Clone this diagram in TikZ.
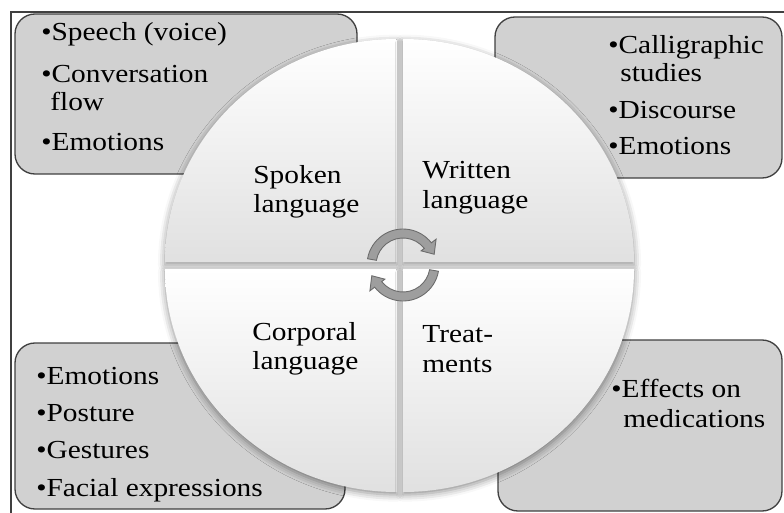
\documentclass[tikz,border=0pt]{standalone}
\usepackage{fontspec}
\setmainfont{Liberation Serif}[FakeStretch=1.13]
\usetikzlibrary{shadows.blur}

\tikzset{
  box/.style={draw=black!75, fill=black!18, line width=0.75pt, rounded corners=0.4cm},
  quad/.style={top color=white, bottom color=black!12,
    blur shadow={shadow xshift=0pt, shadow yshift=-1.5pt, shadow blur radius=4pt, shadow opacity=45}},
  cyc/.style={fill=black!38, draw=black!58, line width=0.5pt},
  txt/.style={anchor=base west, inner sep=0pt, font=\fontsize{14.8}{17}\selectfont},
}

\begin{document}
\begin{tikzpicture}[x=0.02cm, y=0.02cm]
  \useasboundingbox (0,0) rectangle (784,512);
  % frame
  \draw[black!75, line width=0.8pt] (786,500) -- (11,500) -- (11,-2);
  % side boxes
  \draw[box] (15,338) rectangle (357,498);
  \draw[box] (495,334) rectangle (782,495);
  \draw[box] (15,3) rectangle (345,169);
  \draw[box] (498,1) rectangle (782,172);
  % the four quadrants
  \path[quad] (397,250) -- (165,250) arc[start angle=180, end angle=90, x radius=232, y radius=223] -- cycle;
  \path[quad] (403,250) -- (403,473) arc[start angle=90, end angle=0, x radius=231, y radius=223] -- cycle;
  \path[quad] (397,243) -- (397,20) arc[start angle=270, end angle=180, x radius=232, y radius=223] -- cycle;
  \path[quad] (403,243) -- (634,243) arc[start angle=0, end angle=-90, x radius=231, y radius=223] -- cycle;
  % cycle arrows in the middle
  \begin{scope}[shift={(403,247)}]
    \foreach \a in {0,180}
      \filldraw[cyc, rotate=\a] (170:36) arc[start angle=170, end angle=38, radius=36]
        -- (38:42) -- (19:33) -- (38:23) -- (38:27)
        arc[start angle=38, end angle=170, radius=27] -- cycle;
  \end{scope}
  % quadrant labels
  \node[txt] (spk1) at (253,329) {Spoken};
  \node[txt] (spk2) at (253,300) {language};
  \node[txt] (wrt1) at (422,334) {Written};
  \node[txt] (wrt2) at (422,304) {language};
  \node[txt] (cor1) at (252,172) {Corporal};
  \node[txt] (cor2) at (252,143) {language};
  \node[txt] (trt1) at (422,170) {Treat-};
  \node[txt] (trt2) at (422,140) {ments};
  % box items
  \node[txt] (tl1) at (41,472) {\textbullet Speech (voice)};
  \node[txt] (tl2) at (41,430) {\textbullet Conversation};
  \node[txt] (tl3) at (50,402) {flow};
  \node[txt] (tl4) at (41,362) {\textbullet Emotions};
  \node[txt] (tr1) at (608,459) {\textbullet Calligraphic};
  \node[txt] (tr2) at (620,431) {studies};
  \node[txt] (tr3) at (608,394) {\textbullet Discourse};
  \node[txt] (tr4) at (608,358) {\textbullet Emotions};
  \foreach \t/\y [count=\i] in {Emotions/128, Posture/91, Gestures/54, Facial expressions/16}
    \node[txt] (bl\i) at (36,\y) {\textbullet \t};
  \node[txt] (br1) at (611,115) {\textbullet Effects on};
  \node[txt] (br2) at (623,85) {medications};
\end{tikzpicture}
\end{document}
